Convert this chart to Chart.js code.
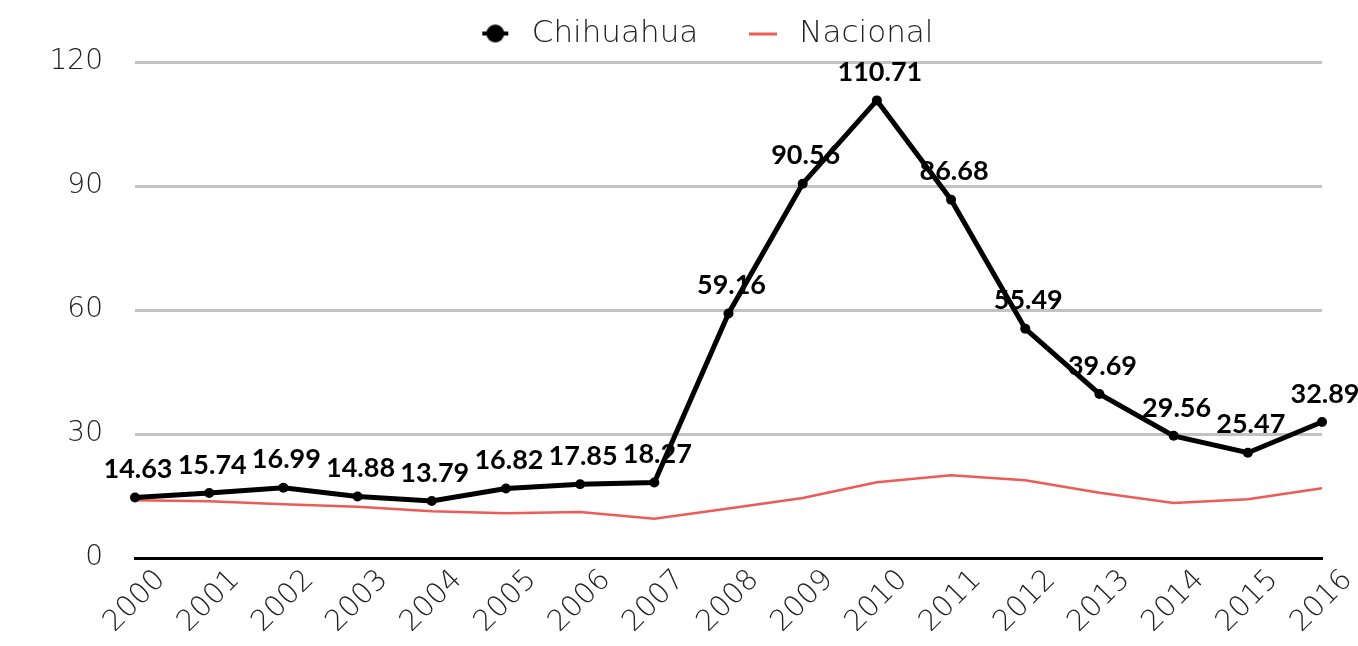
<!DOCTYPE html>
<html>
<head>
<meta charset="utf-8">
<script src="https://cdn.jsdelivr.net/npm/chart.js@4"></script>
<style>
  body { margin: 0; background: #fff; }
</style>
</head>
<body>
<canvas id="myChart" width="1358" height="646"></canvas>
<script>
const years = ['2000', '2001', '2002', '2003', '2004', '2005', '2006', '2007', '2008',
    '2009', '2010', '2011', '2012', '2013', '2014', '2015', '2016'];
const chihuahua = [14.63, 15.74, 16.99, 14.88, 13.79, 16.82, 17.85, 18.27, 59.16,
    90.56, 110.71, 86.68, 55.49, 39.69, 29.56, 25.47, 32.89];
const nacional = [14.0, 13.7, 13.0, 12.4, 11.3, 10.8, 11.1, 9.5, 12.0,
    14.5, 18.3, 20.0, 18.8, 15.8, 13.3, 14.2, 16.9];
const yTicks = [0, 30, 60, 90, 120];

const lightFont = 'DejaVu Sans';

// marcadores de la leyenda
function legendMark(kind) {
    const c = document.createElement('canvas');
    c.width = 28;
    c.height = 20;
    const g = c.getContext('2d');
    if (kind === 'dot') {
        g.fillStyle = '#000';
        g.fillRect(1, 8, 26, 4);
        g.beginPath();
        g.arc(14, 10, 9, 0, Math.PI * 2);
        g.fill();
    } else {
        g.fillStyle = '#ee5a55';
        g.fillRect(0, 9, 28, 3);
    }
    return c;
}

// etiquetas de valor encima de cada punto de Chihuahua
const valueLabels = {
    id: 'valueLabels',
    afterDatasetsDraw(chart) {
        const ctx = chart.ctx;
        const meta = chart.getDatasetMeta(0);
        ctx.save();
        ctx.font = 'bold 27px Lato';
        ctx.fillStyle = '#000';
        ctx.textAlign = 'center';
        ctx.textBaseline = 'middle';
        meta.data.forEach((pt, i) => {
            ctx.fillText(chihuahua[i].toFixed(2), pt.x + 3, pt.y - 28);
        });
        ctx.restore();
    }
};

const data = {
    labels: years,
    datasets: [{
        label: 'Chihuahua',
        data: chihuahua,
        borderColor: '#000',
        backgroundColor: '#000',
        borderWidth: 5,
        pointRadius: 5,
        pointBackgroundColor: '#000',
        pointBorderWidth: 0,
        tension: 0
    }, {
        label: 'Nacional',
        data: nacional,
        borderColor: '#ee5a55',
        backgroundColor: '#ee5a55',
        borderWidth: 2.5,
        pointRadius: 0,
        tension: 0
    }]
};

const marks = [legendMark('dot'), legendMark('line')];

const config = {
    type: 'line',
    data: data,
    plugins: [valueLabels],
    options: {
        responsive: false,
        animation: false,
        layout: { padding: { left: 0, right: 36, top: 4, bottom: 0 } },
        plugins: {
            legend: {
                position: 'top',
                fullSize: false,
                labels: {
                    usePointStyle: true,
                    pointStyleWidth: 42,
                    padding: 14,
                    color: '#222',
                    font: { family: lightFont, size: 31, weight: 200 },
                    generateLabels: (chart) => chart.data.datasets.map((ds, i) => ({
                        text: i === 0 ? ds.label + '   ' : ds.label + '     ',
                        pointStyle: marks[i],
                        fillStyle: ds.borderColor,
                        strokeStyle: ds.borderColor,
                        lineWidth: 0,
                        fontColor: '#222',
                        hidden: false,
                        datasetIndex: i
                    }))
                }
            },
            title: {
                display: true,
                text: '',
                weight: 500,
                font: { size: 1, lineHeight: 1 },
                padding: { top: 0, bottom: 2 }
            },
            tooltip: { enabled: false }
        },
        scales: {
            x: {
                grid: { display: false, drawTicks: false },
                border: { color: '#000', width: 3 },
                afterFit: (scale) => { scale.height = 88; },
                ticks: {
                    maxRotation: 45,
                    minRotation: 45,
                    padding: 5,
                    labelOffset: 26,
                    color: '#222',
                    font: { family: lightFont, size: 29, weight: 200 }
                }
            },
            y: {
                min: 0,
                max: 120,
                afterFit: (scale) => { scale.width = 135; },
                afterBuildTicks: (scale) => { scale.ticks = yTicks.map(v => ({ value: v })); },
                grid: {
                    drawTicks: false,
                    lineWidth: 3,
                    color: (c) => c.tick && c.tick.value === 0 ? 'rgba(0,0,0,0)' : '#c2c2c2'
                },
                border: { display: false },
                ticks: {
                    padding: 32,
                    color: '#222',
                    font: { family: lightFont, size: 28, weight: 200 }
                }
            }
        }
    }
};

const myChart = new Chart(document.getElementById('myChart'), config);
</script>
</body>
</html>
